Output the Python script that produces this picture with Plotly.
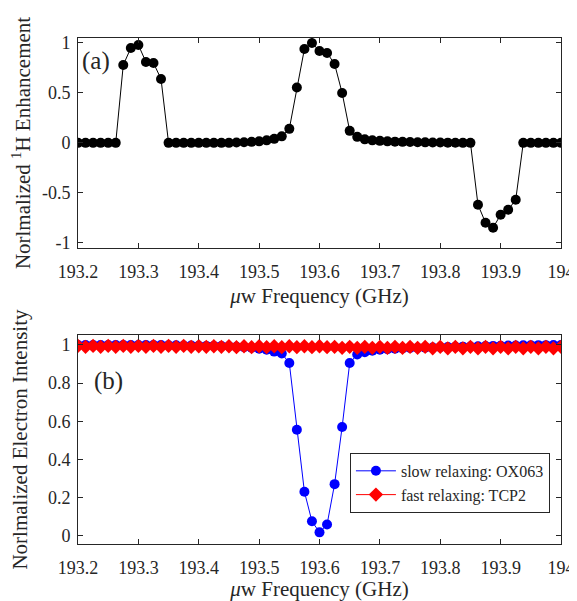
import plotly.graph_objects as go

freq = [193.2, 193.2125, 193.225, 193.2375, 193.25, 193.2625, 193.275, 193.2875,
        193.3, 193.3125, 193.325, 193.3375, 193.35, 193.3625, 193.375, 193.3875,
        193.4, 193.4125, 193.425, 193.4375, 193.45, 193.4625, 193.475, 193.4875,
        193.5, 193.5125, 193.525, 193.5375, 193.55, 193.5625, 193.575, 193.5875,
        193.6, 193.6125, 193.625, 193.6375, 193.65, 193.6625, 193.675, 193.6875,
        193.7, 193.7125, 193.725, 193.7375, 193.75, 193.7625, 193.775, 193.7875,
        193.8, 193.8125, 193.825, 193.8375, 193.85, 193.8625, 193.875, 193.8875,
        193.9, 193.9125, 193.925, 193.9375, 193.95, 193.9625, 193.975, 193.9875,
        194.0]

enhancement = [0, 0, 0, 0, 0, 0, 0.78, 0.95, 0.98, 0.81, 0.80, 0.64,
               0, 0, 0, 0, 0, 0, 0, 0, 0, 0.003, 0.006,
               0.01, 0.015, 0.025, 0.04, 0.065, 0.14, 0.555, 0.94, 1.0,
               0.92, 0.90, 0.79, 0.50, 0.12, 0.06, 0.035, 0.025, 0.02,
               0.015, 0.012, 0.01, 0.008, 0.006, 0.005, 0.004, 0.003,
               0.002, 0.001, 0, 0,
               -0.62, -0.80, -0.85, -0.72, -0.67, -0.57,
               0, 0, 0, 0, 0, 0]

slow_ox063 = [1.0, 1.0, 1.0, 1.0, 1.0, 1.0, 1.0, 1.0, 1.0, 1.0, 1.0, 1.0,
              0.998, 0.998, 0.997, 0.997, 0.996, 0.995, 0.995, 0.994,
              0.993, 0.99, 0.988, 0.985, 0.98, 0.975, 0.965, 0.955, 0.905,
              0.555, 0.23, 0.075, 0.017, 0.058, 0.27, 0.57, 0.905, 0.95,
              0.962, 0.97, 0.975, 0.978, 0.98, 0.982, 0.984, 0.985, 0.986,
              0.987, 0.988, 0.989, 0.99, 0.991, 0.992, 0.993, 0.994, 0.995,
              0.996, 0.997, 0.997, 0.998, 0.998, 0.999, 0.999, 1.0, 1.0]

fast_tcp2 = [0.995, 0.99, 0.995, 0.99, 0.995, 0.99, 0.995, 0.99, 0.995, 0.99,
             0.995, 0.99, 0.995, 0.99, 0.995, 0.99, 0.993, 0.99, 0.993, 0.99,
             0.993, 0.988, 0.993, 0.988, 0.993, 0.988, 0.993, 0.988, 0.993,
             0.988, 0.993, 0.988, 0.993, 0.988, 0.99, 0.985, 0.99, 0.985,
             0.99, 0.985, 0.99, 0.985, 0.99, 0.985, 0.99, 0.985, 0.99, 0.982,
             0.99, 0.982, 0.99, 0.982, 0.99, 0.982, 0.99, 0.982, 0.99, 0.982,
             0.99, 0.982, 0.99, 0.982, 0.99, 0.982, 0.99]

x_ticks = [193.2, 193.3, 193.4, 193.5, 193.6, 193.7, 193.8, 193.9, 194.0]
x_tick_text = ["193.2", "193.3", "193.4", "193.5", "193.6", "193.7", "193.8", "193.9", "194"]
ya_ticks = [-1, -0.5, 0, 0.5, 1]
ya_tick_text = ["-1", "-0.5", "0", "0.5", "1"]
yb_ticks = [0, 0.2, 0.4, 0.6, 0.8, 1]
yb_tick_text = ["0", "0.2", "0.4", "0.6", "0.8", "1"]

FONT = "Liberation Serif, Times New Roman, serif"
INK = "#262626"

fig = go.Figure()
fig.add_trace(go.Scatter(x=freq, y=enhancement, mode="lines+markers",
                         line=dict(color="black", width=1),
                         marker=dict(color="black", size=10, symbol="circle"),
                         xaxis="x", yaxis="y", showlegend=False))
fig.add_trace(go.Scatter(x=freq, y=slow_ox063, mode="lines+markers",
                         name="slow relaxing: OX063",
                         line=dict(color="#0000ff", width=1),
                         marker=dict(color="#0000ff", size=10, symbol="circle"),
                         xaxis="x2", yaxis="y2"))
fig.add_trace(go.Scatter(x=freq, y=fast_tcp2, mode="lines+markers",
                         name="fast relaxing: TCP2",
                         line=dict(color="#ff0000", width=1),
                         marker=dict(color="#ff0000", size=11, symbol="diamond"),
                         xaxis="x2", yaxis="y2"))

axis_common = dict(showline=True, linecolor=INK, linewidth=1, mirror="ticks",
                   ticks="inside", ticklen=5, tickcolor=INK, showgrid=False,
                   zeroline=False, automargin=False,
                   tickfont=dict(family=FONT, size=18, color=INK))
title_font = dict(family=FONT, size=21, color=INK)

# page has an 8px body margin, so the figure is sized to fill the rest of the window
fig.update_layout(
    width=569, height=593,
    margin=dict(l=70, r=16, t=30, b=57),
    paper_bgcolor="white", plot_bgcolor="white",
    font=dict(family=FONT, color=INK),
    xaxis=dict(domain=[0, 1], anchor="y", range=[193.2, 194.0],
               tickvals=x_ticks, ticktext=x_tick_text, ticklabelstandoff=7,
               title=dict(text="<i>μ</i>w Frequency (GHz)", font=title_font, standoff=7),
               **axis_common),
    yaxis=dict(domain=[0.585, 1.0], anchor="x", range=[-1.053, 1.05],
               tickvals=ya_ticks, ticktext=ya_tick_text, ticklabelstandoff=3,
               title=dict(text="Norlmalized <sup>1</sup>H Enhancement", font=title_font, standoff=10),
               **axis_common),
    xaxis2=dict(domain=[0, 1], anchor="y2", range=[193.2, 194.0],
                tickvals=x_ticks, ticktext=x_tick_text, ticklabelstandoff=7,
                title=dict(text="<i>μ</i>w Frequency (GHz)", font=title_font, standoff=5),
                **axis_common),
    yaxis2=dict(domain=[0.0, 0.413], anchor="x2", range=[-0.044, 1.052],
                tickvals=yb_ticks, ticktext=yb_tick_text, ticklabelstandoff=3,
                title=dict(text="Norlmalized Electron Intensity", font=title_font, standoff=15),
                **axis_common),
    legend=dict(x=0.563, y=0.18, xanchor="left", yanchor="top",
                bgcolor="white", bordercolor=INK, borderwidth=1,
                font=dict(family=FONT, size=16, color=INK),
                tracegroupgap=0, itemwidth=40),
    annotations=[
        dict(text="(a)", x=0.004, y=0.986, xref="paper", yref="paper",
             xanchor="left", yanchor="top", showarrow=False,
             font=dict(family=FONT, size=25, color=INK)),
        dict(text="(b)", x=0.028, y=0.354, xref="paper", yref="paper",
             xanchor="left", yanchor="top", showarrow=False,
             font=dict(family=FONT, size=25, color=INK)),
    ],
)

fig.write_html("out.html")
